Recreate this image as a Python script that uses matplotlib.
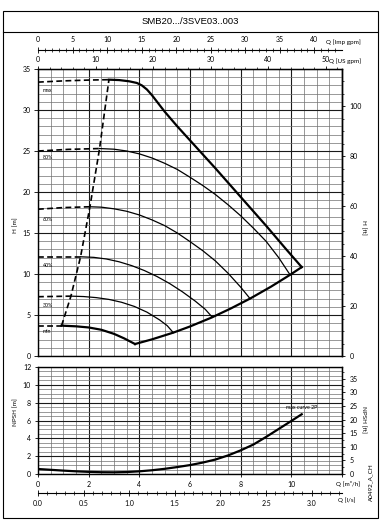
import numpy as np
import matplotlib
matplotlib.use("Agg")
import matplotlib.pyplot as plt
from matplotlib.patches import Rectangle
from matplotlib.lines import Line2D
from matplotlib.ticker import MultipleLocator, FixedLocator, FormatStrFormatter

# ---------------- data (Q in m3/h, H in m) ----------------
title = "SMB20.../3SVE03..003"

q_max_dash = [0.0, 1.0, 2.0, 2.80]
h_max_dash = [33.4, 33.55, 33.65, 33.7]
q_max = [2.80, 3.2, 3.6, 3.9, 4.1, 4.3, 4.5, 4.75, 5.0, 5.5, 6.0, 7.0, 8.0, 9.0, 9.8, 10.41]
h_max = [33.7, 33.65, 33.5, 33.3, 33.0, 32.5, 31.8, 30.8, 29.8, 28.0, 26.3, 22.9, 19.4, 15.9, 13.0, 10.84]

q_80_dash = [0.0, 1.2, 2.43]
h_80_dash = [25.0, 25.2, 25.3]
q_80 = [2.43, 3.0, 3.5, 4.0, 4.5, 5.0, 5.5, 6.0, 6.5, 7.0, 7.5, 8.0, 8.5, 9.0, 9.5, 9.95]
h_80 = [25.3, 25.22, 25.0, 24.65, 24.15, 23.5, 22.75, 21.8, 20.8, 19.7, 18.45, 17.1, 15.6, 14.0, 12.0, 9.9]

q_60_dash = [0.0, 1.0, 2.05]
h_60_dash = [17.9, 18.1, 18.2]
q_60 = [2.05, 2.5, 3.0, 3.5, 4.0, 4.5, 5.0, 5.5, 6.0, 6.5, 7.0, 7.5, 8.0, 8.37]
h_60 = [18.2, 18.15, 17.95, 17.65, 17.2, 16.6, 15.9, 15.0, 13.95, 12.85, 11.6, 10.1, 8.4, 7.0]

q_40_dash = [0.0, 1.68]
h_40_dash = [12.1, 12.1]
q_40 = [1.68, 2.2, 2.7, 3.2, 3.7, 4.2, 4.7, 5.2, 5.7, 6.2, 6.6, 6.86]
h_40 = [12.1, 12.03, 11.83, 11.49, 11.02, 10.42, 9.69, 8.83, 7.83, 6.71, 5.7, 4.8]

q_30_dash = [0.0, 1.30]
h_30_dash = [7.23, 7.3]
q_30 = [1.3, 1.8, 2.3, 2.8, 3.3, 3.8, 4.3, 4.8, 5.1, 5.34]
h_30 = [7.3, 7.25, 7.12, 6.9, 6.55, 6.05, 5.35, 4.4, 3.7, 2.85]

q_min_dash = [0.0, 0.93]
h_min_dash = [3.7, 3.7]
q_min = [0.93, 1.5, 2.0, 2.5, 3.0, 3.4, 3.83]
h_min = [3.7, 3.62, 3.48, 3.2, 2.7, 2.15, 1.46]

q_sys = [3.83, 4.5, 5.34, 6.0, 6.86, 7.6, 8.37, 9.2, 9.95, 10.41]
h_sys = [1.46, 2.03, 2.85, 3.6, 4.7, 5.78, 7.0, 8.46, 9.9, 10.84]

q_bep = [0.93, 1.30, 1.68, 2.05, 2.43, 2.80]
h_bep = [3.7, 7.3, 12.1, 18.2, 25.3, 33.7]

curve_labels = ["max", "80%", "60%", "40%", "30%", "min"]
label_h = [32.4, 24.2, 16.7, 11.0, 6.2, 3.0]

q_npsh = [0, 0.5, 1, 1.5, 2, 2.5, 3, 3.5, 4, 4.5, 5, 5.5, 6, 6.5, 7, 7.5, 8, 8.5, 9, 9.5, 10, 10.41]
n_npsh = [0.56, 0.47, 0.38, 0.3, 0.24, 0.2, 0.19, 0.22, 0.3, 0.42, 0.58, 0.78, 1.0, 1.28,
          1.62, 2.08, 2.65, 3.3, 4.15, 5.05, 5.95, 6.7]

h_ticks = [0, 5, 10, 15, 20, 25, 30, 35]
hft_ticks = [0, 20, 40, 60, 80, 100]
n_ticks = [0, 2, 4, 6, 8, 10, 12]
nft_ticks = [0, 5, 10, 15, 20, 25, 30, 35]
q_ticks = [0, 2, 4, 6, 8, 10, 12]
q_ticklabels = ["0", "2", "4", "6", "8", "10", ""]
imp_ticks = [0, 5, 10, 15, 20, 25, 30, 35, 40]
us_ticks = [0, 10, 20, 30, 40, 50]
ls_ticks = [0.0, 0.5, 1.0, 1.5, 2.0, 2.5, 3.0]

M3H_PER_USGPM = 0.2271247
M3H_PER_IMPGPM = 0.2727654
FT = 0.3048

# ---------------- figure ----------------
W, H = 389, 524
plt.rcParams['font.family'] = ['Lato', 'DejaVu Sans']
fig = plt.figure(figsize=(W / 100, H / 100), dpi=100)

def fx(px):
    return px / W

def fy(py):
    return 1 - py / H

# outer frame and title box
fig.add_artist(Rectangle((fx(3), fy(518)), fx(378) - fx(3), fy(11) - fy(518),
                         transform=fig.transFigure, fill=False, lw=0.8, color='black'))
fig.add_artist(Line2D([fx(3), fx(378)], [fy(32), fy(32)], transform=fig.transFigure,
                      lw=0.8, color='black'))
fig.text(fx(190), fy(21.5), title, ha='center', va='center', fontsize=6.8,
         family=['Liberation Sans', 'DejaVu Sans'])

L, R = 38, 342
ax = fig.add_axes([fx(L), fy(356), fx(R) - fx(L), fy(69) - fy(356)])
ax.set_xlim(0, 12)
ax.set_ylim(0, 35)
ax.xaxis.set_major_locator(MultipleLocator(2))
ax.xaxis.set_minor_locator(MultipleLocator(0.5))
ax.yaxis.set_major_locator(FixedLocator(h_ticks))
ax.yaxis.set_minor_locator(MultipleLocator(1))
ax.grid(which='major', color='#1a1a1a', lw=0.8)
ax.grid(which='minor', color='#707070', lw=0.5)
ax.set_axisbelow(True)
ax.tick_params(axis='x', which='both', length=0, labelbottom=False)
ax.tick_params(axis='y', which='major', length=3, direction='out', labelsize=5, pad=2, width=0.6)
ax.tick_params(axis='y', which='minor', length=0)
for s in ax.spines.values():
    s.set_linewidth(1.0)

dash_kw = dict(color='black', lw=1.2, dashes=(3.5, 2.0))
ax.plot(q_max_dash, h_max_dash, **dash_kw)
ax.plot(q_max, h_max, color='black', lw=1.6, solid_joinstyle='round')
for qd, hd, qs, hs in [(q_80_dash, h_80_dash, q_80, h_80),
                       (q_60_dash, h_60_dash, q_60, h_60),
                       (q_40_dash, h_40_dash, q_40, h_40),
                       (q_30_dash, h_30_dash, q_30, h_30)]:
    ax.plot(qd, hd, **dash_kw)
    ax.plot(qs, hs, color='black', lw=0.9, solid_joinstyle='round')
ax.plot(q_min_dash, h_min_dash, **dash_kw)
ax.plot(q_min, h_min, color='black', lw=1.6, solid_joinstyle='round')
ax.plot(q_sys, h_sys, color='black', lw=1.6, solid_joinstyle='round')
ax.plot(q_bep, h_bep, **dash_kw)
for lab, hl in zip(curve_labels, label_h):
    ax.text(0.2, hl, lab, fontsize=3.8, ha='left', va='center')

# right H [ft]
sy = ax.secondary_yaxis('right', functions=(lambda m: m / FT, lambda f: f * FT))
sy.yaxis.set_major_locator(FixedLocator(hft_ticks))
sy.yaxis.set_minor_locator(MultipleLocator(5))
sy.tick_params(which='major', length=2.5, labelsize=5, pad=3, width=0.6)
sy.tick_params(which='minor', length=1.5, width=0.5)
sy.spines['right'].set_linewidth(1.0)

# top US gpm
sx = ax.secondary_xaxis('top', functions=(lambda q: q / M3H_PER_USGPM, lambda g: g * M3H_PER_USGPM))
sx.xaxis.set_major_locator(FixedLocator(us_ticks))
sx.xaxis.set_minor_locator(MultipleLocator(2))
sx.tick_params(which='major', length=2.5, labelsize=5, pad=2, width=0.6)
sx.tick_params(which='minor', length=1.5, width=0.5)

# Imp gpm axis line
axi = fig.add_axes([fx(L), fy(50), fx(R) - fx(L), 0.0001])
axi.set_xlim(0, 12 / M3H_PER_IMPGPM)
axi.set_facecolor('none')
for k in ['left', 'right', 'bottom']:
    axi.spines[k].set_visible(False)
axi.spines['top'].set_linewidth(0.8)
axi.set_yticks([])
axi.xaxis.set_ticks_position('top')
axi.xaxis.set_label_position('top')
axi.xaxis.set_major_locator(FixedLocator(imp_ticks))
axi.xaxis.set_minor_locator(MultipleLocator(1))
axi.tick_params(which='major', direction='inout', length=4, labelsize=5, pad=3, width=0.6)
axi.tick_params(which='minor', direction='inout', length=2.5, width=0.5)

fig.text(fx(326), fy(42), "Q [Imp gpm]", fontsize=4.5, ha='left', va='center')
fig.text(fx(329), fy(61), "Q [US gpm]", fontsize=4.5, ha='left', va='center',
         bbox=dict(facecolor='white', edgecolor='none', pad=0.3))

fig.text(fx(16), fy(225), "H [m]", fontsize=4.5, rotation=90, ha='center', va='center')
fig.text(fx(363), fy(227), "H [ft]", fontsize=4.5, rotation=270, ha='center', va='center')

# ---------------- NPSH ----------------
ax2 = fig.add_axes([fx(L), fy(474), fx(R) - fx(L), fy(367) - fy(474)])
ax2.set_xlim(0, 12)
ax2.set_ylim(0, 12)
ax2.xaxis.set_major_locator(FixedLocator(q_ticks))
ax2.set_xticklabels(q_ticklabels)
ax2.xaxis.set_minor_locator(MultipleLocator(0.5))
ax2.yaxis.set_major_locator(FixedLocator(n_ticks))
ax2.yaxis.set_minor_locator(MultipleLocator(0.5))
ax2.grid(which='major', color='#1a1a1a', lw=0.8)
ax2.grid(which='minor', color='#707070', lw=0.5)
ax2.set_axisbelow(True)
ax2.tick_params(which='major', length=2.5, labelsize=5, pad=2.5, width=0.6)
ax2.tick_params(which='minor', length=0)
for s in ax2.spines.values():
    s.set_linewidth(1.0)
ax2.plot(q_npsh, n_npsh, color='black', lw=1.6, solid_joinstyle='round')
ax2.text(10.4, 7.5, "max curve 2P", fontsize=3.8, ha='center', va='center')

sy2 = ax2.secondary_yaxis('right', functions=(lambda m: m / FT, lambda f: f * FT))
sy2.yaxis.set_major_locator(FixedLocator(nft_ticks))
sy2.yaxis.set_minor_locator(MultipleLocator(2.5))
sy2.tick_params(which='major', length=2.5, labelsize=5, pad=3, width=0.6)
sy2.tick_params(which='minor', length=1.5, width=0.5)

fig.text(fx(16), fy(412), "NPSH [m]", fontsize=4.5, rotation=90, ha='center', va='center')
fig.text(fx(363), fy(420), "NPSH [ft]", fontsize=4.5, rotation=270, ha='center', va='center')
fig.text(fx(371), fy(482), "A0492_A_CH", fontsize=4.5, rotation=90, ha='center', va='center')

# l/s axis line
axl = fig.add_axes([fx(L), fy(493), fx(R) - fx(L), 0.0001])
axl.set_xlim(0, 12 / 3.6)
axl.set_facecolor('none')
for k in ['left', 'right', 'top']:
    axl.spines[k].set_visible(False)
axl.spines['bottom'].set_linewidth(0.8)
axl.set_yticks([])
axl.xaxis.set_major_locator(FixedLocator(ls_ticks))
axl.xaxis.set_major_formatter(FormatStrFormatter('%.1f'))
axl.xaxis.set_minor_locator(MultipleLocator(0.1))
axl.tick_params(which='major', direction='inout', length=4, labelsize=5, pad=3, width=0.6)
axl.tick_params(which='minor', direction='inout', length=2.5, width=0.5)

fig.text(fx(336), fy(484), "Q [m\u00b3/h]", fontsize=4.5, ha='left', va='center')
fig.text(fx(338), fy(500), "Q [l/s]", fontsize=4.5, ha='left', va='center')

fig.savefig("out.png", dpi=100)
